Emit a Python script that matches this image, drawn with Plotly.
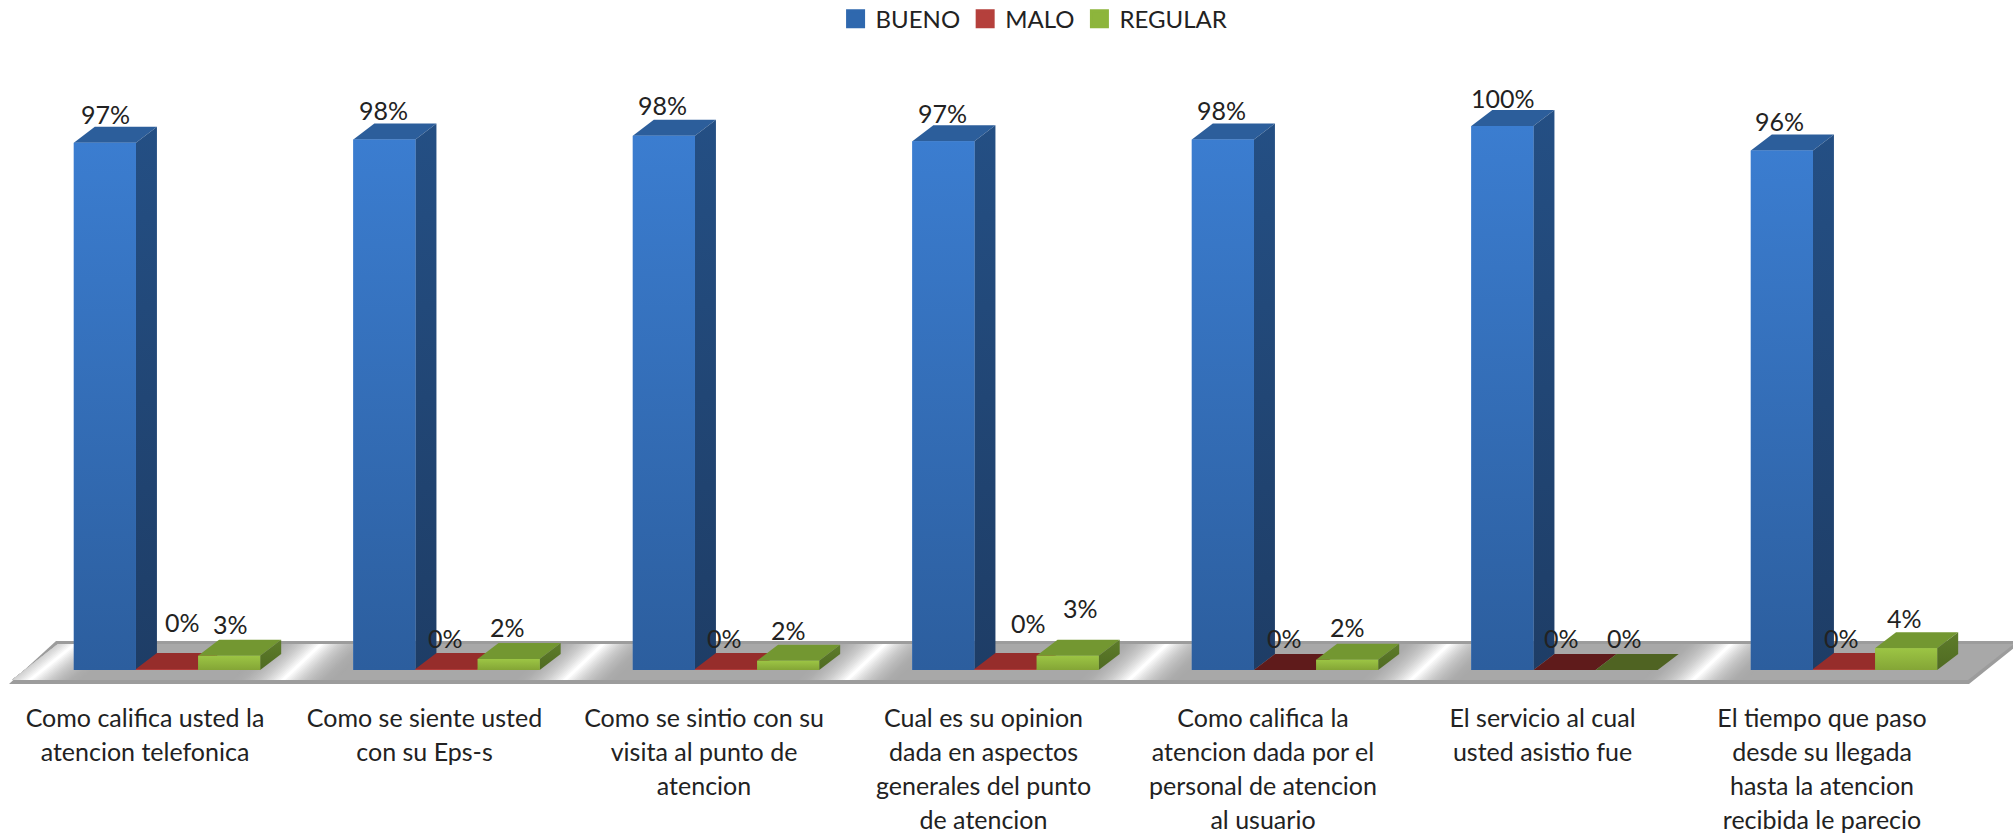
import plotly.graph_objects as go

CATEGORIES = [
    "Como califica usted la<br>atencion telefonica",
    "Como se siente usted<br>con su Eps-s",
    "Como se sintio con su<br>visita al punto de<br>atencion",
    "Cual es su opinion<br>dada en aspectos<br>generales del punto<br>de atencion",
    "Como califica la<br>atencion dada por el<br>personal de atencion<br>al usuario",
    "El servicio al cual<br>usted asistio fue",
    "El tiempo que paso<br>desde su llegada<br>hasta la atencion<br>recibida le parecio",
]
BUENO = [96.9, 97.5, 98.2, 97.2, 97.5, 100.0, 95.5]
MALO = [0.2, 0.2, 0.2, 0.2, 0.0, 0.0, 0.2]
REGULAR = [2.6, 2.0, 1.7, 2.6, 1.9, 0.0, 4.0]

# label centres on the page (px)
BUENO_LABEL_POS = [(105, 114), (383, 110), (662, 105), (942, 113), (1221, 110), (1503, 98), (1779, 121)]
MALO_LABEL_POS = [(182, 622), (445, 638), (724, 638), (1028, 623), (1284, 638), (1561, 638), (1841, 638)]
REGULAR_LABEL_POS = [(230, 624), (508, 627), (788, 630), (1080, 608), (1347, 627), (1624, 638), (1904, 618)]

W, H = 2013, 833
PLOT_BOTTOM = 690
BASE_PX = 670
PX_PER_PCT = 5.44
GROUP_PX = 279.5
FIRST_CENTER_PX = 167
TICK_SHIFT = 22 / GROUP_PX
DEPTH_X = 21 / GROUP_PX
DEPTH_Y = 16 / PX_PER_PCT
BAR_W = (2 / 3) / 3
FONT = "Lato"
TEXT = "#222222"
TICK_TEXT_PX = 25

STYLES = [
    dict(name="BUENO", values=BUENO, legend="#2F68AE", front=("#2C5E9E", "#3B7DD0"),
         side=("#1E3D66", "#244F84"), top="#2C5E9B", top0="#1E3D66"),
    dict(name="MALO", values=MALO, legend="#B5403C", front=("#A83533", "#BC4340"),
         side=("#6E2220", "#7F2A28"), top="#962D2B", top0="#5F1B1B"),
    dict(name="REGULAR", values=REGULAR, legend="#8DB53C", front=("#84A536", "#9CC544"),
         side=("#4F6A22", "#5E7D2A"), top="#739731", top0="#4F6322"),
]


def paper_x(px):
    return px / W


def paper_y(py):
    return 1 - py / PLOT_BOTTOM


def poly(points):
    return "M" + " L".join(f"{paper_x(x):.5f},{paper_y(y):.5f}" for x, y in points) + " Z"


def blend(t):
    a, b = (0xA8, 0xA8, 0xA8), (255, 255, 255)
    return "rgb(%d,%d,%d)" % tuple(round(p + (q - p) * t) for p, q in zip(a, b))


# floor slab
FY_BACK, FY_FRONT, FY_EDGE = 644, 680, 684
FL_LEFT_FRONT, FL_LEFT_BACK = 12, 58
FL_RIGHT_FRONT, FL_RIGHT_BACK = 1968, 2014
shapes = [
    dict(type="path", layer="below", xref="paper", yref="paper", line_width=0, fillcolor="#9C9C9C",
         path=poly([(FL_LEFT_FRONT - 3, FY_EDGE), (FL_LEFT_BACK - 2, FY_BACK - 3), (W + 6, FY_BACK - 3), (W + 6, FY_BACK),
                    (FL_RIGHT_FRONT + 1, FY_EDGE)])),
    dict(type="path", layer="below", xref="paper", yref="paper", line_width=0, fillcolor=blend(0),
         path=poly([(FL_LEFT_FRONT, FY_FRONT), (FL_LEFT_BACK, FY_BACK), (FL_RIGHT_BACK, FY_BACK), (FL_RIGHT_FRONT, FY_FRONT)])),
]
STREAKS = [(30, 75)] + [(283 + 282 * k, 321 + 282 * k) for k in range(6)]
HALF = 52
STEPS = 22
for xb, xt in STREAKS:
    for s in range(STEPS, 0, -1):
        hw = HALF * s / STEPS
        t = (1 - (s - 1) / STEPS) ** 2
        pts = [(max(xb - hw, FL_LEFT_FRONT), FY_FRONT), (max(xt - hw, FL_LEFT_BACK), FY_BACK),
               (xt + hw, FY_BACK), (xb + hw, FY_FRONT)]
        shapes.append(dict(type="path", layer="below", xref="paper", yref="paper", line_width=0,
                           fillcolor=blend(t), path=poly(pts)))

fig = go.Figure()
X = list(range(len(CATEGORIES)))

for st in STYLES:
    fig.add_trace(go.Bar(x=X, y=st["values"], name=st["name"], marker_color=st["front"][1],
                         marker_line_width=0, showlegend=False, legendgroup=st["name"]))


def face(xs, ys, grp, color=None, grad=None):
    kw = dict(fillcolor=color) if color else dict(
        fillgradient=dict(type="vertical", colorscale=[[0, grad[0]], [1, grad[1]]]))
    fig.add_trace(go.Scatter(x=xs, y=ys, mode="lines", fill="toself", line=dict(width=0),
                             hoverinfo="skip", showlegend=False, legendgroup=grp, **kw))


for k, st in enumerate(STYLES):
    off = (k - 1.5) * BAR_W
    for i, v in zip(X, st["values"]):
        x0, x1 = i + off, i + off + BAR_W
        face([x0, x1, x1 + DEPTH_X, x0 + DEPTH_X, x0], [v, v, v + DEPTH_Y, v + DEPTH_Y, v], st["name"],
             color=st["top"] if v > 0 else st["top0"])
        if v > 0:
            face([x1, x1 + DEPTH_X, x1 + DEPTH_X, x1, x1], [0, DEPTH_Y, v + DEPTH_Y, v, 0], st["name"], grad=st["side"])
            face([x0, x1, x1, x0, x0], [0, 0, v, v, 0], st["name"], grad=st["front"])

for st in STYLES:
    fig.add_trace(go.Scatter(x=[None], y=[None], mode="markers", name=st["name"], legendgroup=st["name"],
                             marker=dict(symbol="square", size=16, color=st["legend"],
                                         line=dict(width=3, color=st["legend"]))))

annotations = []
for st, pos in zip(STYLES, (BUENO_LABEL_POS, MALO_LABEL_POS, REGULAR_LABEL_POS)):
    for v, (px, py) in zip(st["values"], pos):
        annotations.append(dict(text=f"{round(v)}%", xref="paper", yref="paper", x=paper_x(px), y=paper_y(py),
                                xanchor="center", yanchor="middle", showarrow=False,
                                font=dict(family=FONT, size=25, color=TEXT)))

span_open = f'<span style="font-size:{TICK_TEXT_PX}px">'
ticktext = [span_open + c.replace("<br>", "</span><br>" + span_open) + "</span>" for c in CATEGORIES]

fig.update_layout(
    width=W, height=H, margin=dict(l=0, r=0, t=0, b=H - PLOT_BOTTOM, pad=0, autoexpand=False),
    paper_bgcolor="white", plot_bgcolor="rgba(0,0,0,0)", barmode="group", bargap=1 / 3, bargroupgap=0,
    font=dict(family=FONT, color=TEXT), shapes=shapes, annotations=annotations,
    xaxis=dict(range=[(0 - FIRST_CENTER_PX) / GROUP_PX, (W - FIRST_CENTER_PX) / GROUP_PX],
               tickmode="array", tickvals=[i - TICK_SHIFT for i in X], ticktext=ticktext, tickangle=0,
               showgrid=False, zeroline=False, showline=False, ticks="outside", ticklen=5,
               tickcolor="rgba(0,0,0,0)", tickfont=dict(family=FONT, size=26, color=TEXT)),
    yaxis=dict(range=[(BASE_PX - PLOT_BOTTOM) / PX_PER_PCT, BASE_PX / PX_PER_PCT], visible=False),
    legend=dict(orientation="h", x=0.5137, xanchor="center", y=1.005, yanchor="top", bgcolor="rgba(0,0,0,0)",
                itemsizing="trace", font=dict(family=FONT, size=24, color=TEXT), itemwidth=30, traceorder="normal"),
)

fig.write_html("out.html", config={"displayModeBar": False}, post_script="document.body.style.margin='0';")
